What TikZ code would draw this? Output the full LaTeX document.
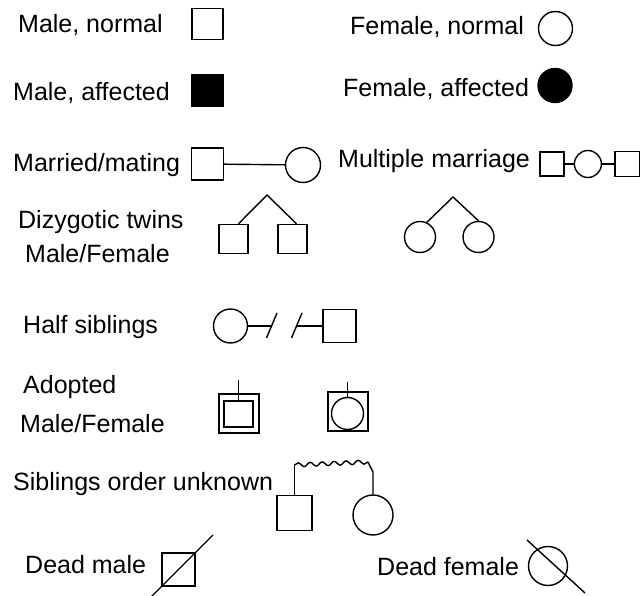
\documentclass[tikz,border=0pt]{standalone}
\usepackage{fontspec}
\setmainfont{Liberation Sans}
\usetikzlibrary{positioning,calc,decorations.pathmorphing}
\tikzset{
  lw/.style={line width=1.4pt},
  male/.style={draw,lw,rectangle,inner sep=0pt,minimum size=#1},
  male/.default=30pt,
  female/.style={draw,lw,circle,inner sep=0pt,minimum size=#1},
  female/.default=34pt,
  aff/.style={fill=black},
  lab/.style={anchor=base west,inner sep=0pt,font=\fontsize{25}{30}\selectfont},
  ln/.style={draw,lw},
  wavy/.style={lw,decorate,decoration={snake,segment length=12pt,amplitude=2pt}},
}
\begin{document}
\begin{tikzpicture}[x=1pt,y=-1pt]
\useasboundingbox (0,0) rectangle (640,596);
% labels
\node[lab] (tmn) at (18,33) {Male, normal};
\node[lab] (tma) at (13,101) {Male, affected};
\node[lab] (tmm) at (13,172) {Married/mating};
\node[lab] (tfn) at (350,35) {Female, normal};
\node[lab] (tfa) at (343,97) {Female, affected};
\node[lab] (tmu) at (338,168) {Multiple marriage};
\node[lab] (tdz) at (18,229) {Dizygotic twins};
\node[lab] (tdz2) at (25,262) {Male/Female};
\node[lab] (ths) at (23,333) {Half siblings};
\node[lab] (tad) at (23,393) {Adopted};
\node[lab] (tad2) at (20,432) {Male/Female};
\node[lab] (tso) at (13,490) {Siblings order unknown};
\node[lab] (tdm) at (25,573) {Dead male};
\node[lab] (tdf) at (377,575) {Dead female};
% normal / affected
\node[male=31pt] (mn) at (207.5,24) {};
\node[male=31pt,aff] (ma) at (207.5,90.5) {};
\node[female] (fn) at (555.5,28.5) {};
\node[female,aff] (fa) at (555,85.5) {};
% married
\node[male=32pt] (mm) at (207.5,164) {};
\node[female=35pt] (fm) at (303,165) {};
\draw[ln] (mm)--(fm);
% multiple marriage
\node[male=24pt] (mu1) at (552,164) {};
\node[female=27pt,right=9pt of mu1] (mu2) {};
\node[male=25pt,right=12pt of mu2] (mu3) {};
\foreach \u/\v in {mu1/mu2,mu2/mu3} \draw[ln] (\u)--(\v);
% twins
\coordinate (am) at (267,195);
\node[male=29pt] (tm1) at (233.5,239) {};
\node[male=29pt] (tm2) at (292.5,239) {};
\draw[ln] ($(tm1.north)+(5,0)$) -- (am) -- ($(tm2.north)+(4,0)$);
\coordinate (af) at (453,197);
\node[female=31pt] (tf1) at (420,237) {};
\node[female=31pt] (tf2) at (478.5,237) {};
\draw[ln] (tf1.65) -- (af) -- (tf2.north);
% half siblings
\node[female] (hc) at (230.5,326) {};
\node[male=33pt] (hs) at (339.5,326) {};
\coordinate (h1) at (272,326);
\coordinate (h2) at (297,326);
\draw[ln] (hc)--(h1);
\draw[ln] (h2)--(hs);
\foreach \c in {h1,h2}
  \draw[ln] ($(\c)+(-5.5,12)$) -- ($(\c)+(5,-13)$);
% adopted
\node[male,minimum width=40pt,minimum height=39pt] (adm) at (239,413.5) {};
\node[male,minimum width=29pt,minimum height=26pt] (adm1) at (238.5,414) {};
\coordinate (adm0) at (238.5,380);
\draw[ln] (adm0)--(adm1.north);
\node[male,minimum width=40pt,minimum height=39pt] (adf) at (348,411.5) {};
\node[female=32pt] (adf1) at (347.5,413.5) {};
\coordinate (adf0) at (347.5,382);
\draw[ln] (adf0)--(adf1.north);
% siblings order unknown
\node[male=35pt] (so1) at (294.5,513) {};
\node[female=40pt] (so2) at (373,515) {};
\coordinate (w1) at (294.5,465);
\coordinate (w2) at (368,462);
\coordinate (w3) at (373,472);
\draw[ln] (so1.north)--(w1);
\draw[wavy] (w1)--(w2);
\draw[ln] (w2)--(w3)--(so2.north);
% dead
\node[male=33pt] (dm) at (178.5,569.5) {};
\draw[ln] ($(dm.south west)!-0.35!(dm.north east)$) -- ($(dm.north east)!-0.5!(dm.south west)$);
\node[female=39pt] (df) at (548,566) {};
\draw[ln] ($(df)+(-21,-26)$) -- ($(df)+(37,27)$);
\end{tikzpicture}
\end{document}
